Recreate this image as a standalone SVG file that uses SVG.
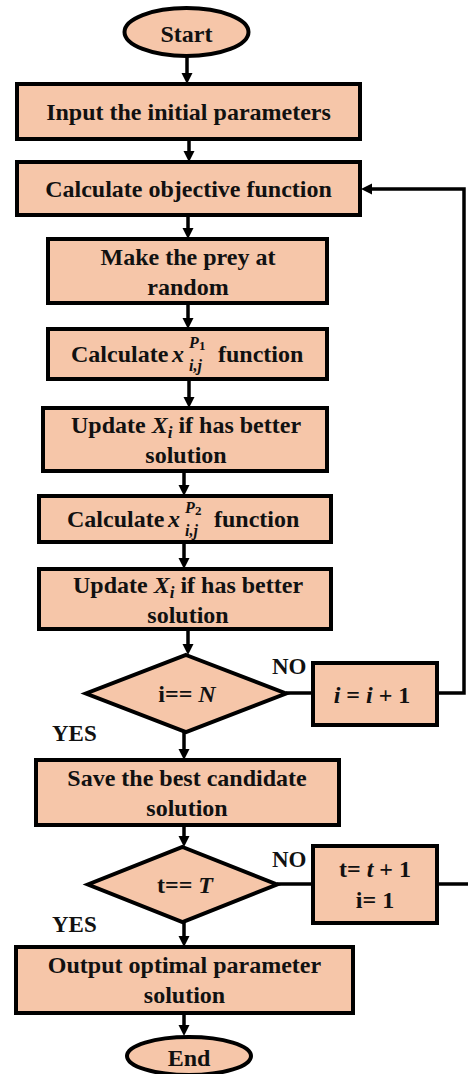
<svg xmlns="http://www.w3.org/2000/svg" width="468" height="1074" viewBox="0 0 468 1074">
<style>
.n{fill:#F6C6A9;stroke:#000;stroke-width:4}
.t{font-family:"Liberation Serif","Times New Roman",serif;font-weight:bold;font-size:24px;fill:#111;text-anchor:middle}
.s{text-anchor:start}
.l{font-family:"Liberation Serif","Times New Roman",serif;font-weight:bold;font-size:23px;fill:#111}
.c{fill:none;stroke:#000;stroke-width:3.5}
.m{font-style:italic}
</style>
<defs>
<marker id="a" markerUnits="userSpaceOnUse" markerWidth="12" markerHeight="12" refX="2" refY="5.5" orient="auto">
<path d="M0,0 L11,5.5 L0,11 z" fill="#000"/>
</marker>
</defs>
<rect width="468" height="1074" fill="#fff"/>
<g id="connectors">
<line class="c" x1="187" y1="57" x2="187" y2="75" marker-end="url(#a)"/>
<line class="c" x1="189" y1="139" x2="189" y2="153" marker-end="url(#a)"/>
<line class="c" x1="188" y1="215" x2="188" y2="230" marker-end="url(#a)"/>
<line class="c" x1="188" y1="303" x2="188" y2="320" marker-end="url(#a)"/>
<line class="c" x1="189" y1="379" x2="189" y2="399" marker-end="url(#a)"/>
<line class="c" x1="184" y1="471" x2="184" y2="487" marker-end="url(#a)"/>
<line class="c" x1="184" y1="542" x2="184" y2="560" marker-end="url(#a)"/>
<line class="c" x1="188" y1="629" x2="188" y2="646" marker-end="url(#a)"/>
<line class="c" x1="184" y1="732" x2="184" y2="751" marker-end="url(#a)"/>
<line class="c" x1="184" y1="825" x2="184" y2="838" marker-end="url(#a)"/>
<line class="c" x1="184" y1="922" x2="184" y2="938" marker-end="url(#a)"/>
<line class="c" x1="184" y1="1013" x2="184" y2="1027" marker-end="url(#a)"/>
<line class="c" x1="286" y1="693" x2="313" y2="693"/>
<polyline class="c" points="437,693 464,693 464,189 370,189" marker-end="url(#a)"/>
<line class="c" x1="277" y1="884" x2="313" y2="884"/>
<line class="c" x1="437" y1="884" x2="468" y2="884"/>
<text class="l" x="272" y="674">NO</text>
<text class="l" x="52" y="741">YES</text>
<text class="l" x="272" y="867">NO</text>
<text class="l" x="52" y="932">YES</text>
</g>
<g id="start">
<ellipse class="n" cx="186.5" cy="32" rx="62" ry="24"/>
<text class="t" x="186.5" y="42">Start</text>
</g>
<g id="input">
<rect class="n" x="17" y="84" width="343" height="55"/>
<text class="t" x="188.5" y="120">Input the initial parameters</text>
</g>
<g id="objective">
<rect class="n" x="17" y="162" width="343" height="53"/>
<text class="t" x="188.5" y="197">Calculate objective function</text>
</g>
<g id="prey">
<rect class="n" x="48" y="239" width="279" height="64"/>
<text class="t" x="188" y="265">Make the prey at</text>
<text class="t" x="188" y="295">random</text>
</g>
<g id="calcP1">
<rect class="n" x="48" y="329" width="279" height="50"/>
<text class="t s" x="71" y="362">Calculate</text>
<text class="t m s" x="172" y="362">x</text>
<text class="t m s" x="189" y="348" style="font-size:16px">P</text>
<text class="t s" x="199" y="350" style="font-size:13px">1</text>
<text class="t m s" x="189" y="371" style="font-size:16px">i,j</text>
<text class="t s" x="218" y="362">function</text>
</g>
<g id="update1">
<rect class="n" x="43" y="408" width="284" height="63"/>
<text class="t" x="186" y="433">Update <tspan class="m">X</tspan><tspan class="m" dy="5" style="font-size:17px">i</tspan><tspan dy="-5"> if has better</tspan></text>
<text class="t" x="186" y="463">solution</text>
</g>
<g id="calcP2">
<rect class="n" x="39" y="496" width="292" height="46"/>
<text class="t s" x="67" y="527">Calculate</text>
<text class="t m s" x="168" y="527">x</text>
<text class="t m s" x="185" y="513" style="font-size:16px">P</text>
<text class="t s" x="195" y="515" style="font-size:13px">2</text>
<text class="t m s" x="185" y="536" style="font-size:16px">i,j</text>
<text class="t s" x="214" y="527">function</text>
</g>
<g id="update2">
<rect class="n" x="39" y="569" width="292" height="60"/>
<text class="t" x="188" y="593">Update <tspan class="m">X</tspan><tspan class="m" dy="5" style="font-size:17px">i</tspan><tspan dy="-5"> if has better</tspan></text>
<text class="t" x="188" y="623">solution</text>
</g>
<g id="checkN">
<polygon class="n" points="186,655 286,693.5 186,732 86,693.5"/>
<text class="t" x="187" y="702">i== <tspan class="m">N</tspan></text>
</g>
<g id="incI">
<rect class="n" x="313" y="663" width="124" height="62"/>
<text class="t" x="372" y="703"><tspan class="m">i</tspan> = <tspan class="m">i</tspan> + 1</text>
</g>
<g id="save">
<rect class="n" x="36" y="760" width="303" height="65"/>
<text class="t" x="187" y="786">Save the best candidate</text>
<text class="t" x="187" y="816">solution</text>
</g>
<g id="checkT">
<polygon class="n" points="182.5,847 277,884.5 182.5,922 88,884.5"/>
<text class="t" x="185" y="893">t== <tspan class="m">T</tspan></text>
</g>
<g id="incT">
<rect class="n" x="313" y="846" width="124" height="77"/>
<text class="t" x="375" y="877">t= <tspan class="m">t</tspan> + 1</text>
<text class="t" x="375" y="908">i= 1</text>
</g>
<g id="output">
<rect class="n" x="16" y="947" width="337" height="66"/>
<text class="t" x="184.5" y="973">Output optimal parameter</text>
<text class="t" x="184.5" y="1003">solution</text>
</g>
<g id="end">
<ellipse class="n" cx="189" cy="1056" rx="62" ry="19"/>
<text class="t" x="189" y="1066">End</text>
</g>
</svg>
